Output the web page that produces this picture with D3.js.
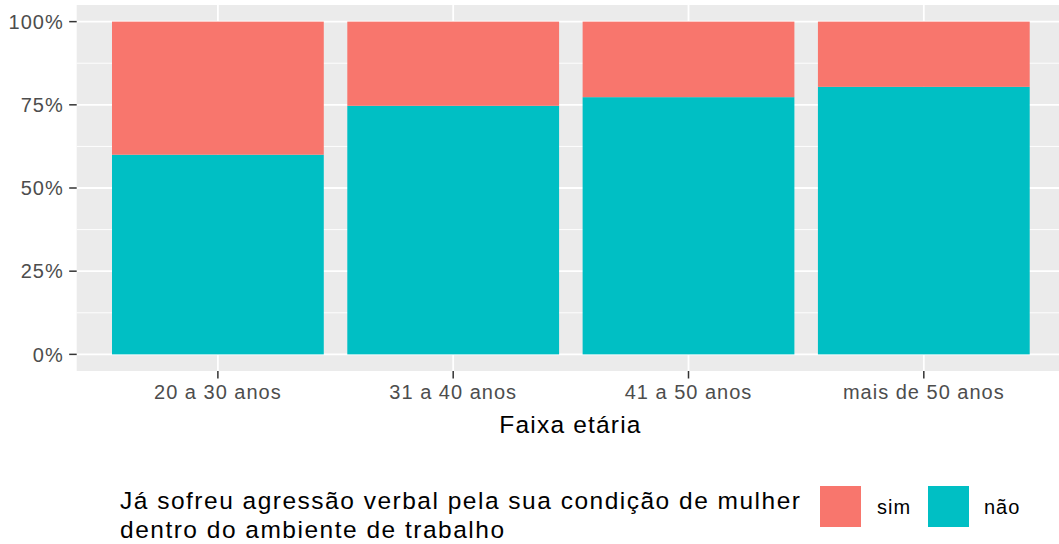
<!DOCTYPE html>
<html>
<head>
<meta charset="utf-8">
<script src="https://cdn.jsdelivr.net/npm/d3@7"></script>
<style>
  html, body { margin: 0; padding: 0; background: #ffffff; }
  svg { display: block; font-family: "Liberation Sans", Arial, Helvetica, sans-serif; }
</style>
</head>
<body>
<svg id="chart" width="1059" height="544"></svg>
<script>
// ---- data ----
const categories = ["20 a 30 anos", "31 a 40 anos", "41 a 50 anos", "mais de 50 anos"];
const naoShare = [0.600, 0.747, 0.773, 0.804];
const simShare = [0.400, 0.253, 0.227, 0.196];
const seriesNames = ["sim", "não"];
const seriesColors = ["#F8766D", "#00BFC4"];
const yTicks = [0, 0.25, 0.5, 0.75, 1];
const yTickLabels = ["0%", "25%", "50%", "75%", "100%"];
const yMinor = [0.125, 0.375, 0.625, 0.875];
const xTitle = "Faixa etária";
const legendTitleLines = ["Já sofreu agressão verbal pela sua condição de mulher", "dentro do ambiente de trabalho"];

// ---- layout ----
const svg = d3.select("#chart");
const panel = { left: 76.7, top: 5, right: 1065, bottom: 371 };

const x = d3.scaleBand()
  .domain(categories)
  .range([panel.left, panel.right])
  .paddingInner(0.1)
  .paddingOuter(0.15);
const y = d3.scaleLinear()
  .domain([-0.05, 1.05])
  .range([panel.bottom, panel.top]);

// panel background
svg.append("rect")
  .attr("x", panel.left).attr("y", panel.top)
  .attr("width", panel.right - panel.left).attr("height", panel.bottom - panel.top)
  .attr("fill", "#EBEBEB");

// minor grid
svg.append("g").selectAll("line").data(yMinor).join("line")
  .attr("x1", panel.left).attr("x2", panel.right)
  .attr("y1", d => y(d)).attr("y2", d => y(d))
  .attr("stroke", "#ffffff").attr("stroke-width", 0.9);
// major grid
svg.append("g").selectAll("line").data(yTicks).join("line")
  .attr("x1", panel.left).attr("x2", panel.right)
  .attr("y1", d => y(d)).attr("y2", d => y(d))
  .attr("stroke", "#ffffff").attr("stroke-width", 1.8);
svg.append("g").selectAll("line").data(categories).join("line")
  .attr("y1", panel.top).attr("y2", panel.bottom)
  .attr("x1", d => x(d) + x.bandwidth() / 2).attr("x2", d => x(d) + x.bandwidth() / 2)
  .attr("stroke", "#ffffff").attr("stroke-width", 1.8);

// stacked bars
const rows = categories.map((c, i) => ({ cat: c, "não": naoShare[i], "sim": simShare[i] }));
const stack = d3.stack().keys(["não", "sim"]);
const stacked = stack(rows);
const colorOf = d3.scaleOrdinal().domain(seriesNames).range(seriesColors);

svg.append("g").selectAll("g").data(stacked).join("g")
  .attr("fill", d => colorOf(d.key))
  .selectAll("rect").data(d => d).join("rect")
  .attr("x", d => x(d.data.cat))
  .attr("width", x.bandwidth())
  .attr("y", d => y(d[1]))
  .attr("height", d => y(d[0]) - y(d[1]));

// y axis
const yAxis = svg.append("g");
yAxis.selectAll("line").data(yTicks).join("line")
  .attr("x1", panel.left - 7.5).attr("x2", panel.left)
  .attr("y1", d => y(d)).attr("y2", d => y(d))
  .attr("stroke", "#333333").attr("stroke-width", 1.5);
yAxis.selectAll("text").data(yTicks).join("text")
  .attr("x", panel.left - 13)
  .attr("y", d => y(d))
  .attr("dy", "0.36em")
  .attr("text-anchor", "end")
  .attr("fill", "#4D4D4D")
  .style("font-size", "20px")
  .style("letter-spacing", "1px")
  .text((d, i) => yTickLabels[i]);

// x axis
const xAxis = svg.append("g");
xAxis.selectAll("line").data(categories).join("line")
  .attr("x1", d => x(d) + x.bandwidth() / 2).attr("x2", d => x(d) + x.bandwidth() / 2)
  .attr("y1", panel.bottom).attr("y2", panel.bottom + 7.5)
  .attr("stroke", "#333333").attr("stroke-width", 1.5);
xAxis.selectAll("text").data(categories).join("text")
  .attr("x", d => x(d) + x.bandwidth() / 2)
  .attr("y", 399.3)
  .attr("text-anchor", "middle")
  .attr("fill", "#4D4D4D")
  .style("font-size", "20px")
  .style("letter-spacing", "1px")
  .text(d => d);

// x title
svg.append("text")
  .attr("x", 570.5)
  .attr("y", 433.3)
  .attr("text-anchor", "middle")
  .attr("fill", "#000000")
  .style("font-size", "24.5px")
  .style("letter-spacing", "1.2px")
  .text(xTitle);

// legend
const legend = svg.append("g");
legend.selectAll("text.title").data(legendTitleLines).join("text")
  .attr("class", "title")
  .attr("x", 120)
  .attr("y", (d, i) => 509 + i * 29)
  .attr("fill", "#000000")
  .style("font-size", "24.5px")
  .style("letter-spacing", "1.5px")
  .text(d => d);

const keyX = [820, 928];
const labX = [877, 984];
const keys = legend.selectAll("g.key").data(seriesNames).join("g").attr("class", "key");
keys.append("rect")
  .attr("x", (d, i) => keyX[i]).attr("y", 486)
  .attr("width", 41).attr("height", 41)
  .attr("fill", d => colorOf(d));
keys.append("text")
  .attr("x", (d, i) => labX[i]).attr("y", 507)
  .attr("dy", "0.36em")
  .attr("fill", "#000000")
  .style("font-size", "20px")
  .style("letter-spacing", "1px")
  .text(d => d);
</script>
</body>
</html>
